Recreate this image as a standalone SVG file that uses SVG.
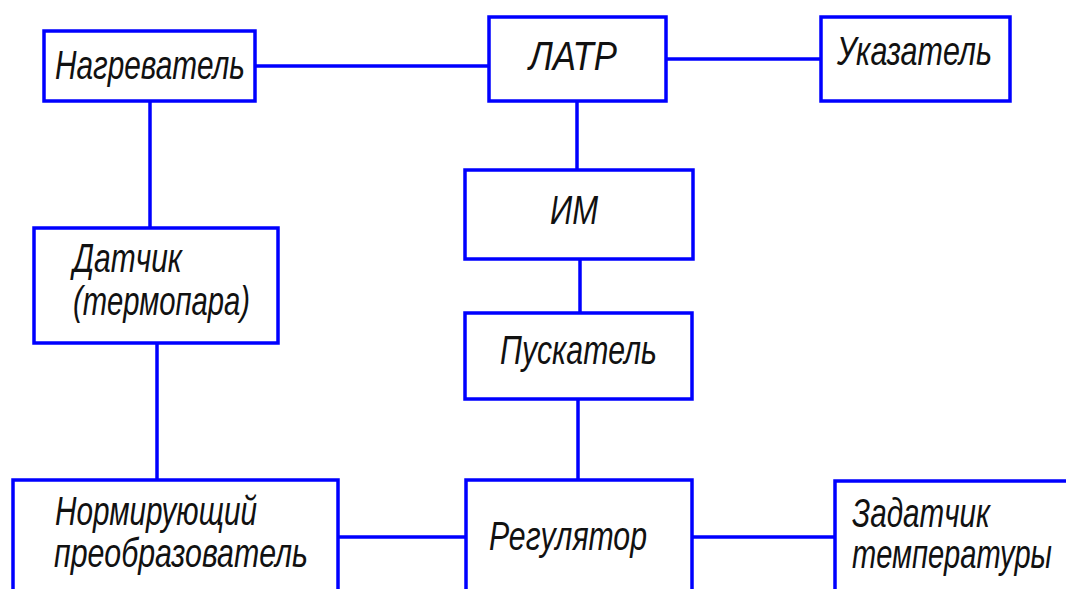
<svg xmlns="http://www.w3.org/2000/svg" width="1066" height="589" viewBox="0 0 1066 589">
<style>
.box{fill:#fff;stroke:#0000ff;stroke-width:3.5}
.ln{stroke:#0000ff;stroke-width:3.5;fill:none}
text{font-family:"Liberation Sans",Arial,sans-serif;font-style:italic;font-size:40px;fill:#111}
</style>
<rect width="1066" height="589" fill="#fff"/>
<g id="connectors">
<line class="ln" x1="255" y1="66" x2="489" y2="66"/>
<line class="ln" x1="666" y1="59" x2="821" y2="59"/>
<line class="ln" x1="150" y1="101" x2="150" y2="228"/>
<line class="ln" x1="157" y1="343" x2="157" y2="480"/>
<line class="ln" x1="577" y1="101" x2="577" y2="170"/>
<line class="ln" x1="580" y1="259" x2="580" y2="313"/>
<line class="ln" x1="578" y1="399" x2="578" y2="480"/>
<line class="ln" x1="338" y1="537" x2="466" y2="537"/>
<line class="ln" x1="692" y1="537" x2="835" y2="537"/>
</g>
<g id="n-nagrevatel">
<rect class="box" x="44" y="31" width="211" height="70"/>
<text x="55" y="79" textLength="190" lengthAdjust="spacingAndGlyphs">Нагреватель</text>
</g>
<g id="n-latr">
<rect class="box" x="489" y="17" width="177" height="84"/>
<text x="529" y="70" textLength="88" lengthAdjust="spacingAndGlyphs">ЛАТР</text>
</g>
<g id="n-ukazatel">
<rect class="box" x="821" y="17" width="189" height="84"/>
<text x="837" y="65" textLength="155" lengthAdjust="spacingAndGlyphs">Указатель</text>
</g>
<g id="n-im">
<rect class="box" x="465" y="170" width="228" height="89"/>
<text x="550" y="224" textLength="48" lengthAdjust="spacingAndGlyphs">ИМ</text>
</g>
<g id="n-puskatel">
<rect class="box" x="465" y="313" width="227" height="86"/>
<text x="500" y="364" textLength="157" lengthAdjust="spacingAndGlyphs">Пускатель</text>
</g>
<g id="n-datchik">
<rect class="box" x="34" y="228" width="244" height="115"/>
<text x="73" y="272" textLength="109" lengthAdjust="spacingAndGlyphs">Датчик</text>
<text x="73" y="315" textLength="177" lengthAdjust="spacingAndGlyphs">(термопара)</text>
</g>
<g id="n-normir">
<rect class="box" x="13" y="480" width="325" height="130"/>
<text x="55" y="525" textLength="202" lengthAdjust="spacingAndGlyphs">Нормирующий</text>
<text x="54" y="567" textLength="254" lengthAdjust="spacingAndGlyphs">преобразователь</text>
</g>
<g id="n-regulator">
<rect class="box" x="466" y="480" width="226" height="130"/>
<text x="489" y="550" textLength="158" lengthAdjust="spacingAndGlyphs">Регулятор</text>
</g>
<g id="n-zadatchik">
<rect class="box" x="835" y="481" width="260" height="130"/>
<text x="852" y="527" textLength="138" lengthAdjust="spacingAndGlyphs">Задатчик</text>
<text x="852" y="568" textLength="200" lengthAdjust="spacingAndGlyphs">температуры</text>
</g>
</svg>
